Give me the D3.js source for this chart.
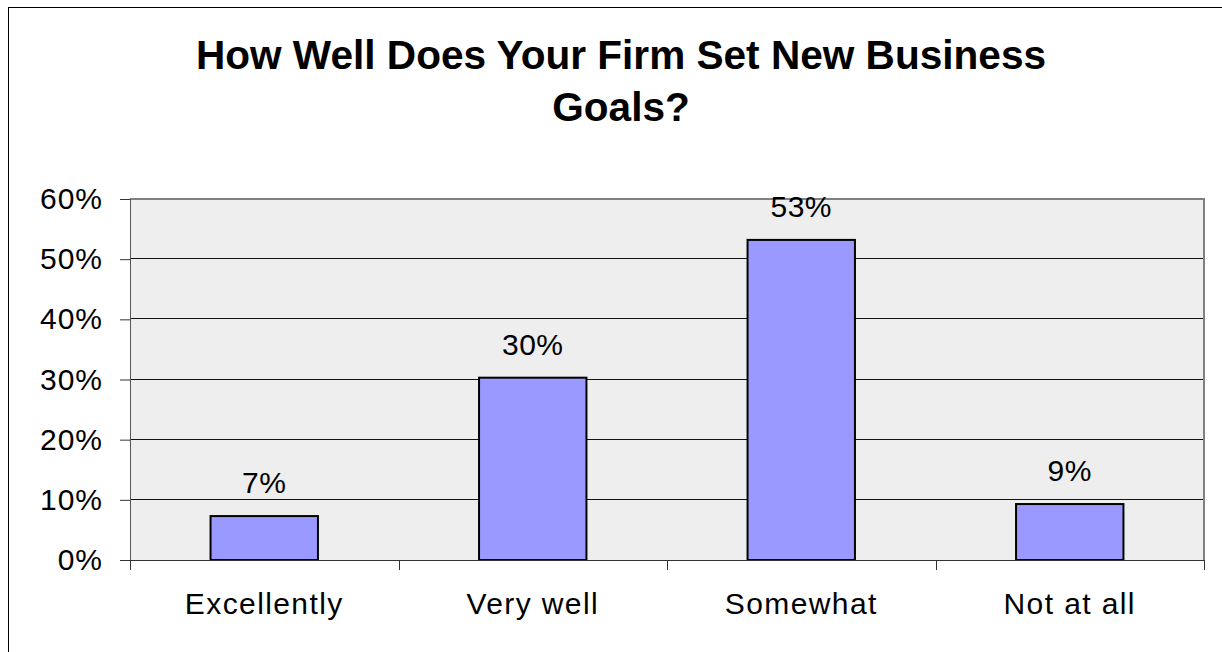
<!doctype html>
<html>
<head>
<meta charset="utf-8">
<style>
    body { margin: 0; background: white; }
    svg { display: block; font-family: "Liberation Sans", Arial, sans-serif; }
</style>
</head>
<body>
<script src="https://cdn.jsdelivr.net/npm/d3@7"></script>
<script>
    const categories = ["Excellently", "Very well", "Somewhat", "Not at all"];
    const values = [0.073, 0.303, 0.532, 0.093];
    const valueLabels = ["7%", "30%", "53%", "9%"];
    const yTicks = [0, 0.1, 0.2, 0.3, 0.4, 0.5, 0.6];
    const titleLines = ["How Well Does Your Firm Set New Business", "Goals?"];

    const width = 1222, height = 652;
    const plot = {left: 130, right: 1204, top: 199, bottom: 560};

    const svg = d3.select("body").append("svg")
        .attr("width", width)
        .attr("height", height);

    // outer chart frame (runs off the right and bottom of the picture)
    svg.append("rect")
        .attr("x", 8.5).attr("y", 7.5)
        .attr("width", 1300).attr("height", 700)
        .attr("fill", "white")
        .attr("stroke", "black")
        .attr("stroke-width", 1);

    svg.selectAll("text.title")
        .data(titleLines)
        .enter().append("text")
        .attr("class", "title")
        .attr("x", 621)
        .attr("y", (d, i) => 69 + i * 52)
        .attr("text-anchor", "middle")
        .attr("font-size", 40.6)
        .attr("font-weight", "bold")
        .text(d => d);

    const x = d3.scaleBand()
        .domain(categories)
        .range([plot.left, plot.right])
        .paddingInner(0.6)
        .paddingOuter(0.3);

    const y = d3.scaleLinear()
        .domain([0, 0.6])
        .range([plot.bottom, plot.top]);

    svg.append("rect")
        .attr("x", plot.left).attr("y", plot.top)
        .attr("width", plot.right - plot.left)
        .attr("height", plot.bottom - plot.top)
        .attr("fill", "#eeeeee");

    // gridlines
    svg.append("g")
        .selectAll("line")
        .data(yTicks.slice(1, -1))
        .enter().append("line")
        .attr("x1", plot.left).attr("x2", plot.right)
        .attr("y1", d => Math.round(y(d)) - 0.5)
        .attr("y2", d => Math.round(y(d)) - 0.5)
        .attr("stroke", "#111")
        .attr("stroke-width", 1);

    // plot border top/right
    svg.append("path")
        .attr("d", `M${plot.left} ${plot.top} H${plot.right} V${plot.bottom}`)
        .attr("fill", "none")
        .attr("stroke", "#808080")
        .attr("stroke-width", 2);

    svg.selectAll("rect.bar")
        .data(values)
        .enter().append("rect")
        .attr("class", "bar")
        .attr("x", (d, i) => x(categories[i]))
        .attr("y", d => y(d))
        .attr("width", x.bandwidth())
        .attr("height", d => y(0) - y(d))
        .attr("fill", "#9999ff")
        .attr("stroke", "black")
        .attr("stroke-width", 2);

    svg.selectAll("text.val")
        .data(values)
        .enter().append("text")
        .attr("class", "val")
        .attr("x", (d, i) => x(categories[i]) + x.bandwidth() / 2)
        .attr("y", d => y(d) - 23)
        .attr("text-anchor", "middle")
        .attr("font-size", 30)
        .attr("letter-spacing", 0.5)
        .text((d, i) => valueLabels[i]);

    // y axis
    const yAxis = svg.append("g")
        .attr("transform", `translate(${plot.left},0)`)
        .call(d3.axisLeft(y).tickValues(yTicks).tickFormat(d3.format(".0%")).tickSize(10).tickPadding(17));
    yAxis.select(".domain").attr("stroke", "#555").attr("d", `M0.5,${plot.top}V${plot.bottom + 10}`);
    yAxis.selectAll("text").attr("font-size", 30).attr("letter-spacing", 1)
        .attr("font-family", "Liberation Sans, Arial, sans-serif").attr("fill", "black");
    yAxis.selectAll(".tick line").attr("stroke", "#333");

    // x axis
    const xAxis = svg.append("g")
        .attr("transform", `translate(0,${plot.bottom})`);
    xAxis.append("line")
        .attr("x1", plot.left).attr("x2", plot.right)
        .attr("y1", 0.5).attr("y2", 0.5)
        .attr("stroke", "#333");
    const bounds = categories.map(c => x(c) - x.step() * x.paddingInner() / 2).concat([plot.right]);
    xAxis.selectAll("line.tk")
        .data(bounds)
        .enter().append("line")
        .attr("class", "tk")
        .attr("x1", d => Math.round(d) + 0.5).attr("x2", d => Math.round(d) + 0.5)
        .attr("y1", 0).attr("y2", 10)
        .attr("stroke", "#333");
    xAxis.selectAll("text")
        .data(categories)
        .enter().append("text")
        .attr("x", d => x(d) + x.bandwidth() / 2)
        .attr("y", 54)
        .attr("text-anchor", "middle")
        .attr("font-size", 30)
        .attr("letter-spacing", 1.4)
        .text(d => d);
</script>
</body>
</html>
